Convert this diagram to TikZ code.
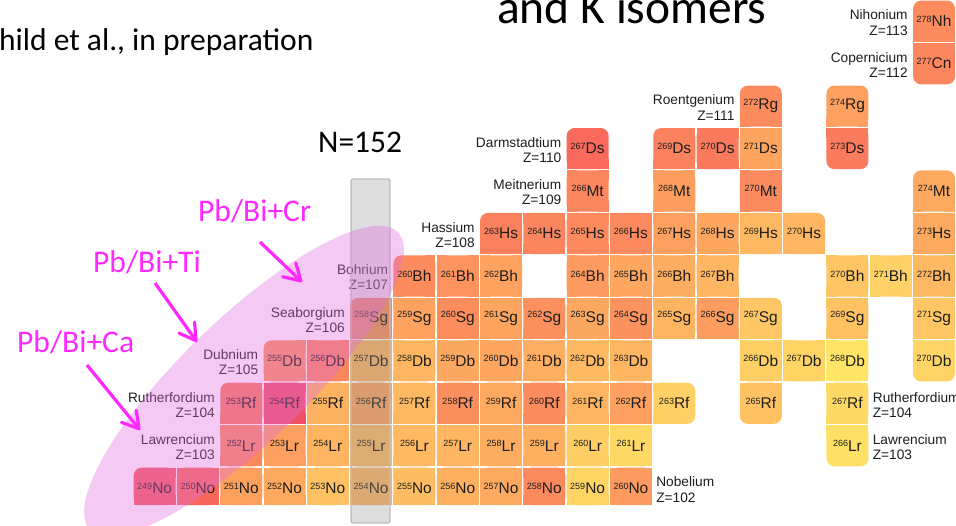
\documentclass[tikz,border=0pt]{standalone}
\usepackage{fontspec}
\setmainfont{Liberation Sans}
\newfontfamily\calib{Carlito}
\usetikzlibrary{arrows.meta}

\definecolor{inkdark}{HTML}{1E1E1E}
\definecolor{bandgray}{RGB}{150,150,150}
\definecolor{bandedge}{RGB}{190,190,190}
\definecolor{lilac}{RGB}{225,110,225}
\definecolor{magtext}{RGB}{255,40,255}

% corner flags: top-left, top-right, bottom-right, bottom-left (1 = rounded)
\newcommand\cornerflags[4]{\def\ctl{#1}\def\ctr{#2}\def\cbr{#3}\def\cbl{#4}}
\newcommand\massno[1]{\raisebox{4.4pt}{\fontsize{9}{9}\selectfont#1}}

% one nuclide cell: N, Z, A, symbol, colour, corner flags
\newcommand\nuccell[6]{%
  \pgfmathsetmacro\cx{133+(#1-147)*43.3}%
  \pgfmathsetmacro\cy{(113-#2)*42.45}%
  \pgfmathsetmacro\cb{(#2==102)?505:(\cy+41.8)}%
  \definecolor{cc}{HTML}{#5}%
  \cornerflags#6%
  \fill[cc,rounded corners=8pt] (\cx+0.65,\cy+0.65) rectangle (\cx+42.65,\cb);
  \ifnum\ctl=0 \fill[cc] (\cx+0.65,\cy+0.65) rectangle (\cx+11,\cy+11);\fi
  \ifnum\ctr=0 \fill[cc] (\cx+32.3,\cy+0.65) rectangle (\cx+42.65,\cy+11);\fi
  \ifnum\cbr=0 \fill[cc] (\cx+32.3,\cb-10.35) rectangle (\cx+42.65,\cb);\fi
  \ifnum\cbl=0 \fill[cc] (\cx+0.65,\cb-10.35) rectangle (\cx+11,\cb);\fi
  \node[cellnode] (#4#3) at (\cx+21.65,\cy+21.2) {\massno{#3}#4};%
}

\tikzset{
  cellnode/.style={inner sep=0pt, minimum width=42pt, minimum height=41.15pt,
    font=\fontsize{15.5}{15.5}\selectfont, text=inkdark},
  namelbl/.style={inner sep=0pt, font=\fontsize{13.7}{15.2}\selectfont, text=inkdark},
  leftlbl/.style={namelbl, anchor=east, align=right, yshift=-1.5pt},
  rightlbl/.style={namelbl, anchor=west, align=left, yshift=-1.5pt},
  slidetext/.style={inner sep=0pt, anchor=base west, text=black},
  reaction/.style={inner sep=0pt, anchor=base west, text=magtext,
    font=\calib\fontsize{31.5}{31.5}\selectfont},
  arr/.style={draw=magtext, line width=3.2pt,
    -{Straight Barb[length=16pt,width=19pt,round]}},
}

\begin{document}
\begin{tikzpicture}[x=1pt,y=-1pt]
\useasboundingbox (0,0) rectangle (956,525);
\clip (0,0) rectangle (956,525);
\fill[white] (0,0) rectangle (956,525);

% ---- Nobelium, Z=102
\nuccell{147}{102}{249}{No}{F65D5F}{1000}
\nuccell{148}{102}{250}{No}{F8675A}{0000}
\nuccell{149}{102}{251}{No}{FCA05E}{0000}
\nuccell{150}{102}{252}{No}{FDAA60}{0000}
\nuccell{151}{102}{253}{No}{FEC163}{0000}
\nuccell{152}{102}{254}{No}{FDB461}{0000}
\nuccell{153}{102}{255}{No}{FEBD62}{0000}
\nuccell{154}{102}{256}{No}{FDB060}{0000}
\nuccell{155}{102}{257}{No}{FDAA60}{0000}
\nuccell{156}{102}{258}{No}{FB8A5E}{0000}
\nuccell{157}{102}{259}{No}{FED465}{0000}
\nuccell{158}{102}{260}{No}{FC9A5F}{0000}
% ---- Lawrencium, Z=103
\nuccell{149}{103}{252}{Lr}{FA8A5D}{0000}
\nuccell{150}{103}{253}{Lr}{FDA05F}{0000}
\nuccell{151}{103}{254}{Lr}{FEB461}{0000}
\nuccell{152}{103}{255}{Lr}{FDB862}{0000}
\nuccell{153}{103}{256}{Lr}{FEB962}{0000}
\nuccell{154}{103}{257}{Lr}{FEB662}{0000}
\nuccell{155}{103}{258}{Lr}{FDAD60}{0000}
\nuccell{156}{103}{259}{Lr}{FDAF60}{0000}
\nuccell{157}{103}{260}{Lr}{FECD64}{0000}
\nuccell{158}{103}{261}{Lr}{FED865}{0000}
\nuccell{163}{103}{266}{Lr}{FFE066}{0011}
% ---- Rutherfordium, Z=104
\nuccell{149}{104}{253}{Rf}{F87A5C}{1000}
\nuccell{150}{104}{254}{Rf}{EE4F63}{0000}
\nuccell{151}{104}{255}{Rf}{FDB261}{0000}
\nuccell{152}{104}{256}{Rf}{FCA05F}{0000}
\nuccell{153}{104}{257}{Rf}{FEB862}{0000}
\nuccell{154}{104}{258}{Rf}{FB905E}{0000}
\nuccell{155}{104}{259}{Rf}{FDAA60}{0000}
\nuccell{156}{104}{260}{Rf}{FB8C5E}{0000}
\nuccell{157}{104}{261}{Rf}{FEB461}{0000}
\nuccell{158}{104}{262}{Rf}{FDA060}{0000}
\nuccell{159}{104}{263}{Rf}{FED065}{0110}
\nuccell{161}{104}{265}{Rf}{FEC263}{0011}
\nuccell{163}{104}{267}{Rf}{FED966}{0000}
% ---- Dubnium, Z=105
\nuccell{150}{105}{255}{Db}{FB935E}{1000}
\nuccell{151}{105}{256}{Db}{FA875D}{0000}
\nuccell{152}{105}{257}{Db}{FDB060}{0000}
\nuccell{153}{105}{258}{Db}{FEB662}{0000}
\nuccell{154}{105}{259}{Db}{FDA860}{0000}
\nuccell{155}{105}{260}{Db}{FDA660}{0000}
\nuccell{156}{105}{261}{Db}{FDAE60}{0000}
\nuccell{157}{105}{262}{Db}{FEBA62}{0000}
\nuccell{158}{105}{263}{Db}{FEB662}{0000}
\nuccell{161}{105}{266}{Db}{FECF65}{0000}
\nuccell{162}{105}{267}{Db}{FED565}{0000}
\nuccell{163}{105}{268}{Db}{FFE566}{0000}
\nuccell{165}{105}{270}{Db}{FED466}{0011}
% ---- Seaborgium, Z=106
\nuccell{152}{106}{258}{Sg}{FA8A5E}{1000}
\nuccell{153}{106}{259}{Sg}{FDA35F}{0000}
\nuccell{154}{106}{260}{Sg}{FC8E5E}{0000}
\nuccell{155}{106}{261}{Sg}{FDA45F}{0000}
\nuccell{156}{106}{262}{Sg}{FC905E}{0000}
\nuccell{157}{106}{263}{Sg}{FDA860}{0000}
\nuccell{158}{106}{264}{Sg}{FC925E}{0000}
\nuccell{159}{106}{265}{Sg}{FEB561}{0000}
\nuccell{160}{106}{266}{Sg}{FD9C5F}{0000}
\nuccell{161}{106}{267}{Sg}{FEC664}{0100}
\nuccell{163}{106}{269}{Sg}{FEC263}{0000}
\nuccell{165}{106}{271}{Sg}{FEC664}{0000}
% ---- Bohrium, Z=107
\nuccell{153}{107}{260}{Bh}{FC8B5E}{1000}
\nuccell{154}{107}{261}{Bh}{FD935F}{0000}
\nuccell{155}{107}{262}{Bh}{FDA25F}{0000}
\nuccell{157}{107}{264}{Bh}{FD9A5F}{0000}
\nuccell{158}{107}{265}{Bh}{FDA760}{0000}
\nuccell{159}{107}{266}{Bh}{FDAD60}{0000}
\nuccell{160}{107}{267}{Bh}{FEB662}{0000}
\nuccell{163}{107}{270}{Bh}{FEC564}{0000}
\nuccell{164}{107}{271}{Bh}{FED266}{0000}
\nuccell{165}{107}{272}{Bh}{FDB862}{0000}
% ---- Hassium, Z=108
\nuccell{155}{108}{263}{Hs}{FA805E}{1000}
\nuccell{156}{108}{264}{Hs}{FB855E}{0000}
\nuccell{157}{108}{265}{Hs}{FC8A5E}{0000}
\nuccell{158}{108}{266}{Hs}{FC8A5E}{0000}
\nuccell{159}{108}{267}{Hs}{FDA05F}{0000}
\nuccell{160}{108}{268}{Hs}{FDA660}{0000}
\nuccell{161}{108}{269}{Hs}{FEB862}{0000}
\nuccell{162}{108}{270}{Hs}{FEB662}{0100}
\nuccell{165}{108}{273}{Hs}{FDAA60}{0000}
% ---- Meitnerium, Z=109
\nuccell{157}{109}{266}{Mt}{FC865E}{0000}
\nuccell{159}{109}{268}{Mt}{FD9E5F}{0000}
\nuccell{161}{109}{270}{Mt}{FB8A5E}{0000}
\nuccell{165}{109}{274}{Mt}{FDAA60}{1100}
% ---- Darmstadtium, Z=110
\nuccell{157}{110}{267}{Ds}{F96A5C}{1100}
\nuccell{159}{110}{269}{Ds}{FB825E}{1000}
\nuccell{160}{110}{270}{Ds}{FA7A5D}{0000}
\nuccell{161}{110}{271}{Ds}{FDA45F}{0000}
\nuccell{163}{110}{273}{Ds}{FA7B5D}{0011}
% ---- Roentgenium, Copernicium, Nihonium
\nuccell{161}{111}{272}{Rg}{FC8C5E}{1100}
\nuccell{163}{111}{274}{Rg}{FDA060}{1100}
\nuccell{165}{112}{277}{Cn}{FC865E}{0011}
\nuccell{165}{113}{278}{Nh}{FC8C5E}{1100}

% ---- element names
\node[leftlbl] (nmNh) at ([xshift=-5pt]Nh278.west) {Nihonium\\Z=113};
\node[leftlbl] (nmCn) at ([xshift=-5pt]Cn277.west) {Copernicium\\Z=112};
\node[leftlbl] (nmRg) at ([xshift=-5pt]Rg272.west) {Roentgenium\\Z=111};
\node[leftlbl] (nmDs) at ([xshift=-5pt]Ds267.west) {Darmstadtium\\Z=110};
\node[leftlbl] (nmMt) at ([xshift=-5pt]Mt266.west) {Meitnerium\\Z=109};
\node[leftlbl] (nmHs) at ([xshift=-5pt]Hs263.west) {Hassium\\Z=108};
\node[leftlbl] (nmBh) at ([xshift=-5pt]Bh260.west) {Bohrium\\Z=107};
\node[leftlbl] (nmSg) at ([xshift=-5pt]Sg258.west) {Seaborgium\\Z=106};
\node[leftlbl] (nmDb) at ([xshift=-5pt]Db255.west) {Dubnium\\Z=105};
\node[leftlbl] (nmRf) at ([xshift=-5pt]Rf253.west) {Rutherfordium\\Z=104};
\node[leftlbl] (nmLr) at ([xshift=-5pt]Lr252.west) {Lawrencium\\Z=103};
\node[rightlbl] (nmNo) at ([xshift=4pt]No260.east) {Nobelium\\Z=102};
\node[rightlbl] (nmRfb) at ([xshift=4pt]Rf267.east) {Rutherfordium\\Z=104};
\node[rightlbl] (nmLrb) at ([xshift=4pt]Lr266.east) {Lawrencium\\Z=103};

% ---- N=152 column band
\draw[draw=bandedge, line width=1.3pt, fill=bandgray, fill opacity=0.32,
  rounded corners=2pt] (351,179) rectangle (390,523);

% ---- reaction region
\fill[lilac, fill opacity=0.36, rotate around={44:(244,381)}]
  (244,381) ellipse [x radius=214pt, y radius=62pt];

% ---- slide texts
\node[slidetext, font=\calib\fontsize{31.5}{31.5}\selectfont] (cite) at (-1,50)
  {hild et al., in preparation};
\node[slidetext, font=\calib\fontsize{47.5}{47.5}\selectfont] (title) at (497,23.5)
  {and K isomers};
\node[slidetext, font=\calib\fontsize{31.5}{31.5}\selectfont] (nline) at (318,152)
  {N=152};

% ---- reactions and arrows
\node[reaction] (rCr) at (198,221) {Pb/Bi+Cr};
\node[reaction] (rTi) at (93,272) {Pb/Bi+Ti};
\node[reaction] (rCa) at (17,352) {Pb/Bi+Ca};
\coordinate (crTail) at (260,242);
\coordinate (crTip) at (302,282);
\coordinate (tiTail) at (155,283);
\coordinate (tiTip) at (197,342);
\coordinate (caTail) at (87,365);
\coordinate (caTip) at (140,430);
\draw[arr] (crTail) -- (crTip);
\draw[arr] (tiTail) -- (tiTip);
\draw[arr] (caTail) -- (caTip);
\end{tikzpicture}
\end{document}
